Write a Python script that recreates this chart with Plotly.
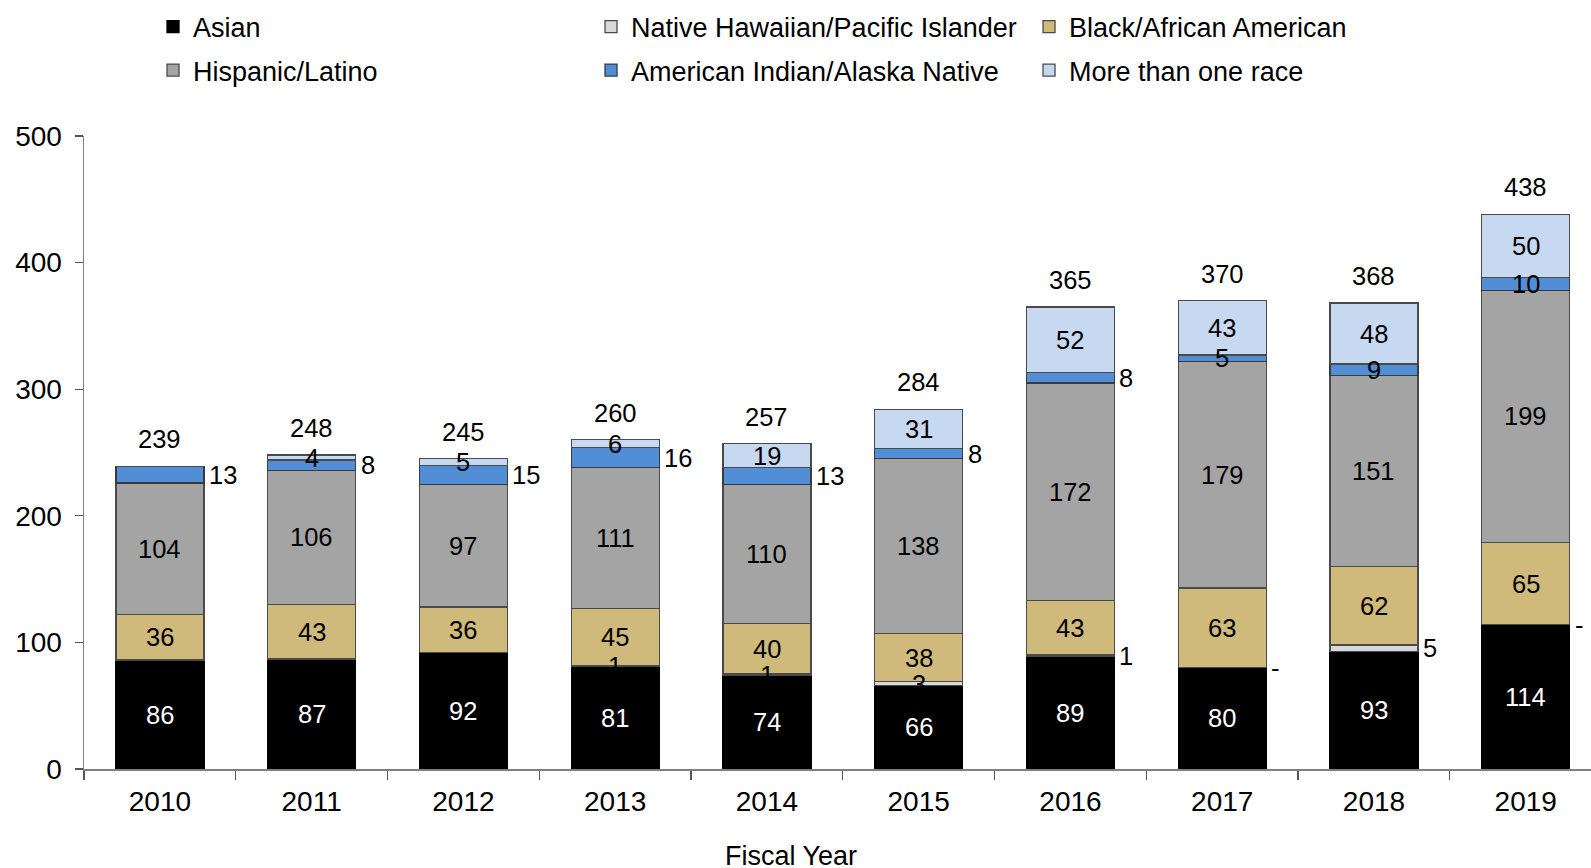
import plotly.graph_objects as go

# ---------------- data ----------------
years = ["2010", "2011", "2012", "2013", "2014", "2015", "2016", "2017", "2018", "2019"]
asian = [86, 87, 92, 81, 74, 66, 89, 80, 93, 114]
nhpi = [0, 0, 0, 1, 1, 3, 1, 0, 5, 0]
black = [36, 43, 36, 45, 40, 38, 43, 63, 62, 65]
hispanic = [104, 106, 97, 111, 110, 138, 172, 179, 151, 199]
aian = [13, 8, 15, 16, 13, 8, 8, 5, 9, 10]
multi = [0, 4, 5, 6, 19, 31, 52, 43, 48, 50]

# where each value label sits: "in" = centred on segment, "out" = right of bar, None = no label
asian_lbl = ["in"] * 10
nhpi_lbl = [None, None, None, "in", "in", "in", "out", "out", "out", "out"]
black_lbl = ["in"] * 10
hisp_lbl = ["in"] * 10
aian_lbl = ["out"] * 7 + ["in"] * 3
multi_lbl = [None] + ["in"] * 9

FONT = "Liberation Sans, Arial, Helvetica, sans-serif"
LBL_SIZE = 25.5
AX_SIZE = 28
LEG_SIZE = 27
TITLE_SIZE = 27

series = [
    # name, values, fill, outline, label colour, label placement, legend
    ("Asian", asian, "#000000", "#000000", "white", asian_lbl, "legend"),
    ("Native Hawaiian/Pacific Islander", nhpi, "#d9d9d9", "#4a4a4a", "black", nhpi_lbl, "legend"),
    ("Black/African American", black, "#cfb97b", "#4a4a4a", "black", black_lbl, "legend"),
    ("Hispanic/Latino", hispanic, "#a3a4a3", "#4a4a4a", "black", hisp_lbl, "legend2"),
    ("American Indian/Alaska Native", aian, "#528ed5", "#3a3a3a", "black", aian_lbl, "legend2"),
    ("More than one race", multi, "#c6d9f0", "#4a4a4a", "black", multi_lbl, "legend2"),
]

BARGAP = 0.42
half_bar = (1 - BARGAP) / 2

fig = go.Figure()
annotations = []
base = [0] * len(years)
for name, vals, fill, line, lcol, placement, leg in series:
    fig.add_trace(go.Bar(
        x=years, y=vals, name=name, legend=leg,
        marker=dict(color=fill, line=dict(color=line, width=1.3)),
        hoverinfo="skip",
    ))
    for i, v in enumerate(vals):
        pos = placement[i]
        if pos is not None:
            txt = str(v) if v > 0 else "-"
            yc = base[i] + v / 2
            if pos == "in":
                annotations.append(dict(x=i, y=yc, xref="x", yref="y", text=txt,
                                        showarrow=False, xanchor="center", yanchor="middle",
                                        font=dict(size=LBL_SIZE, color=lcol, family=FONT)))
            else:
                annotations.append(dict(x=i + half_bar, y=yc, xref="x", yref="y", text=txt,
                                        showarrow=False, xanchor="left", yanchor="middle", xshift=3,
                                        font=dict(size=LBL_SIZE, color="black", family=FONT)))
        base[i] += v

# totals above each bar
for i, t in enumerate(base):
    annotations.append(dict(x=i, y=t, xref="x", yref="y", text=str(t), showarrow=False,
                            xanchor="center", yanchor="middle", yshift=27,
                            font=dict(size=LBL_SIZE, color="black", family=FONT)))

# x-axis title
annotations.append(dict(x=0.469, y=-0.138, xref="paper", yref="paper", text="Fiscal Year",
                        showarrow=False, xanchor="center", yanchor="middle",
                        font=dict(size=TITLE_SIZE, color="black", family=FONT)))

XR = [-0.5, 9.43]
boundaries = [i - 0.5 for i in range(len(years) + 1)]

fig.update_layout(
    width=1591, height=868,
    margin=dict(l=84, r=0, t=136, b=99, autoexpand=False),
    paper_bgcolor="white", plot_bgcolor="white",
    barmode="stack", bargap=BARGAP,
    font=dict(family=FONT, size=AX_SIZE, color="black"),
    showlegend=True,
    legend=dict(orientation="h", x=0.0458, y=1.1722, xanchor="left", yanchor="middle",
                traceorder="normal", entrywidth=393, entrywidthmode="pixels",
                font=dict(size=LEG_SIZE, family=FONT), bgcolor="rgba(0,0,0,0)"),
    legend2=dict(orientation="h", x=0.0458, y=1.1035, xanchor="left", yanchor="middle",
                 traceorder="normal", entrywidth=393, entrywidthmode="pixels",
                 font=dict(size=LEG_SIZE, family=FONT), bgcolor="rgba(0,0,0,0)"),
    xaxis=dict(type="category", range=XR, showline=True, linecolor="#808080", linewidth=1.5,
               ticks="outside", tickson="boundaries", ticklen=9, tickcolor="#555555", tickwidth=1.2,
               showgrid=False, zeroline=False, ticklabelstandoff=7,
               tickfont=dict(size=AX_SIZE, family=FONT, color="black")),
    xaxis2=dict(overlaying="x", anchor="y", range=XR, tickvals=boundaries, ticks="inside",
                ticklen=9, tickcolor="#555555", tickwidth=1.2, showticklabels=False,
                showline=False, showgrid=False, zeroline=False),
    yaxis=dict(range=[0, 500], tickvals=[0, 100, 200, 300, 400, 500], showline=True,
               linecolor="#808080", linewidth=1.5, ticks="outside", ticklen=8,
               tickcolor="#555555", tickwidth=1.2, showgrid=False, zeroline=False,
               ticklabelstandoff=7, tickfont=dict(size=AX_SIZE, family=FONT, color="black")),
    yaxis2=dict(overlaying="y", anchor="x", range=[0, 500], tickvals=[0, 100, 200, 300, 400, 500],
                ticks="inside", ticklen=8, tickcolor="#555555", tickwidth=1.2,
                showticklabels=False, showline=False, showgrid=False, zeroline=False, side="left"),
    annotations=annotations,
)

fig.write_html(
    "out.html",
    config={"displayModeBar": False, "staticPlot": True},
    post_script="document.body.style.margin='0';document.body.style.overflow='hidden';",
)
